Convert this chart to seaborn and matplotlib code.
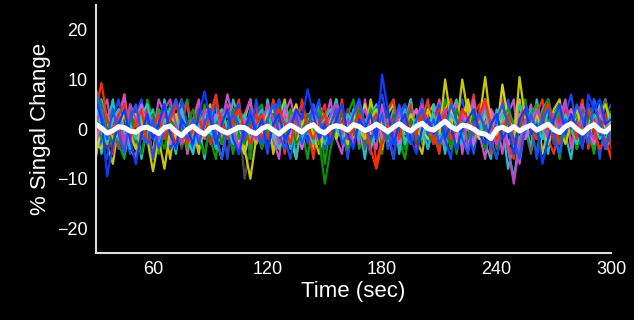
import pandas as pd
import numpy as np
import matplotlib
matplotlib.use("Agg")
import matplotlib.pyplot as plt
import seaborn as sns

# time axis: one sample every 3 sec from 30 to 300
time = list(range(30, 301, 3))

blue1 = [6, 2, -9.5, -3, 1, 4, -2, -7, -1, 3,
         -2, 1, 5, -1, -4, 2, 0, -3, 3, 7.6,
         2, -3, 1, 4, -2, -5, 0, 3, -1, 2,
         -4, 1, 3, -2, 0, 4, 2, 8, 3, -2,
         1, -3, 2, 5, -1, -4, 2, 0, 3, -2,
         11, 4, -3, 1, 3, -2, -5, 0, 2, -1,
         3, -2, 1, -4, 0, 2, 4, -1, -3, 1,
         3, -2, 0, -5, 2, 4, -1, 1, -7, -2,
         2, 5, -1, 3, 0, -3, 7, 4, 6, 1,
         2]
blue2 = [8, 3, -2, 4, -1, -5, 2, 5, -1, -3,
         2, -4, 0, 3, 6, 1, -2, 2, -3, 1,
         4, -1, -6, 0, 3, 1, -2, 4, 0, -3,
         2, 5, -1, -4, 1, 3, -3, 0, 5, 2,
         -2, 1, 4, -3, -1, 3, 6, 1, -2, 0,
         3, -4, 1, 5, 0, -3, 2, 4, -1, 2,
         -3, 0, 5, 2, -2, -5, 1, 3, 0, -4,
         2, 5, 1, -2, -6, 0, 3, -1, 2, 4,
         -1, -5, 2, 0, 5, 2, -3, 6, 1, -4,
         1]
blue3 = [5, -3, -6, 2, 6, -1, -5, 3, 6, 0,
         -6, 2, 5, -4, -2, 6, 1, -5, 4, 2,
         -3, 6, 0, -6, 3, 5, -2, -4, 6, 1,
         -5, 3, 6, -2, -6, 1, 5, -3, 2, 6,
         -4, -1, 5, 2, -6, 3, 6, -2, -5, 4,
         7, 1, -6, 2, 5, -3, -1, 6, -4, 2,
         5, -2, -6, 3, 6, 0, -5, 2, 5, -3,
         -6, 2, 6, -1, -4, 5, 2, -6, 1, 6,
         -2, -5, 3, 7, 0, -4, 5, 2, -6, 3,
         5]
red1 = [4, 9.3, 2, -1, 3, 5, -2, 1, 4, -3,
        0, 3, -2, 2, 5, 1, -3, 0, 2, -1,
        3, 6, 1, -2, 2, 4, 0, -3, 1, 3,
        -2, 0, 4, 1, -3, 2, 5, 0, -2, 1,
        3, -1, 2, 4, -2, 0, 3, 1, -4, -8,
        -3, 1, 2, -2, 3, 0, -1, 4, 2, -3,
        1, 3, -2, 0, 4, 2, -1, 3, 6, 1,
        -2, 0, 3, -3, 1, 4, 0, -2, 2, 5,
        1, -3, 0, 3, -2, 1, 4, 0, -4, -2,
        -6]
red2 = [7, 1, -3, 2, 0, -4, 3, 1, -2, 4,
        1, -2, 3, 0, -3, 2, 5, 1, -1, 2,
        -3, 0, 2, -2, 1, 4, -1, 0, 3, -2,
        1, 3, -1, -4, 2, 0, 3, 1, -3, 0,
        2, -2, 4, 1, -1, 3, 0, -2, 1, 3,
        0, -3, 2, 4, 1, -2, 0, 3, -1, 2,
        4, 1, -3, 2, 0, -2, 3, 5, 0, -3,
        1, 3, -1, 0, -4, 2, 1, -2, 3, 0,
        -2, 2, 4, -1, 1, -3, 0, 2, -1, 3,
        -4]
red3 = [-2, 6, 1, -5, 3, 7, -1, -4, 5, 2,
        -6, 1, 4, -3, 6, 2, -5, 0, 5, -2,
        3, 7, -1, -5, 2, 6, -3, 1, 5, -4,
        0, 6, 2, -5, 3, -2, 6, 1, -6, 2,
        5, -3, 0, 6, -4, 1, 5, -2, 3, -7,
        -2, 4, 6, -3, 1, 5, -4, 2, 6, -1,
        -5, 3, 6, 0, -4, 2, 7, -2, 4, -5,
        1, 6, -3, -6, 2, 5, -1, 3, 6, -2,
        -5, 1, 5, -3, 2, 6, -4, 0, 4, -3,
        -5]
green1 = [8, 5, 0, -3, 2, -1, 4, -2, -5, 1,
          3, -1, -4, 2, 0, -3, 1, 4, -2, -5,
          0, 2, -3, 1, 4, -1, -3, 2, 0, -4,
          1, 3, -2, 0, 2, -3, -1, 3, 1, -2,
          -11, -4, 1, 3, -2, 0, 4, 1, -3, 2,
          0, -2, 3, 1, -4, 2, 0, 5, -1, -3,
          2, 0, -3, 4, 1, -2, 3, 0, -4, 1,
          3, -1, 2, -3, 0, 4, 1, -2, 3, 6,
          1, -2, 0, 3, -4, -1, 2, 5, 1, -3,
          0]
green2 = [3, -2, 1, 4, 0, -3, 2, -1, 3, 0,
          -2, 4, 1, -3, 2, 0, -4, 1, 3, -1,
          2, -3, 0, 4, 1, -2, 3, -4, 0, 2,
          -1, 3, 0, -2, 4, 1, -3, 2, 0, 4,
          1, -2, 3, 0, -4, 2, 1, -1, 4, 2,
          -3, 0, 2, -2, 1, 3, -1, 4, 0, -2,
          3, 1, -4, 0, 2, -2, 1, 3, -1, 0,
          -3, 2, 4, 1, -2, 0, 3, 5, -1, 2,
          0, 4, -2, 1, 3, -1, 0, -4, 2, 5,
          2]
green3 = [6, -4, 2, 5, -3, -6, 1, 4, -2, 6,
          2, -5, 0, 5, -3, 3, 6, -4, -1, 5,
          -2, -6, 3, 1, -5, 4, 2, -6, 3, 5,
          -1, -4, 6, 2, -3, 5, 0, -6, 2, 4,
          -7, 1, 5, -2, 3, 6, -4, -1, 5, 2,
          -5, 3, 6, -2, -6, 1, 4, -3, 5, 0,
          -4, 6, 2, -5, 1, 5, -3, 3, 6, -2,
          -6, 0, 5, -4, 2, 6, -1, -5, 3, 6,
          1, -6, 2, 4, -3, 5, 0, -5, 2, 6,
          -3]
cyan1 = [5, 0, -3, 2, 4, -1, 1, -2, 3, 5,
         0, -3, 2, 1, -1, 4, -2, -5, 1, 3,
         -1, 2, 4, 0, -3, 1, 3, -2, 0, 2,
         4, -1, -4, 2, 1, 3, -2, 0, -3, 1,
         2, 4, 0, -2, 3, 1, -1, 2, -4, 0,
         3, -1, 1, 4, -3, 0, 2, -2, 1, 3,
         -2, 0, 3, 1, -3, 2, 0, -1, 4, -2,
         1, 3, -4, -10, -2, 1, 3, 0, -2, 4,
         2, -1, 3, 0, -3, 2, 4, 1, -2, 0,
         3]
cyan2 = [2, 6, 1, -2, 3, 0, -4, 2, 1, -1,
         3, 0, -2, 4, 1, -3, 0, 2, -1, 3,
         0, -4, 1, 3, -1, 2, 0, -3, 2, 4,
         -2, 0, 3, 1, -4, 0, 2, -1, 3, 0,
         -3, 1, 2, -1, 0, 4, -2, 1, 3, -2,
         0, 2, -3, 1, 4, -1, 2, 0, -4, 1,
         3, -2, 0, 2, -1, 3, -3, 1, 0, -2,
         2, 0, 3, -3, 1, -1, 4, 2, -2, 0,
         3, 1, -2, 2, 0, -3, 1, 3, 0, -2,
         1]
cyan3 = [3, -5, 1, 6, -2, -4, 5, 2, -6, 1,
         4, -3, 6, 0, -5, 3, 5, -2, 1, -6,
         2, 5, -3, -1, 6, 2, -5, 4, 1, -3,
         6, 0, -4, 5, 2, -6, 3, 1, -2, 5,
         -3, 2, 6, -1, -5, 4, 1, -6, 3, 5,
         -2, 0, 4, -5, 2, 6, -3, 1, -4, 5,
         2, -5, 3, 6, -2, -4, 5, 0, -3, -6,
         4, 1, -8, -3, 5, 2, -4, 6, 0, -5,
         3, 5, -1, -6, 2, 4, -3, 1, 5, -4,
         -2]
magenta1 = [1, 4, -2, 0, 3, -3, 5, 2, -1, 3,
            1, -2, 4, 6, 1, -3, 0, 2, -2, 4,
            2, -1, 3, 5, 0, -4, 1, 3, -2, 1,
            5, 2, -3, 0, 2, 4, -1, 1, 3, -2,
            0, 3, 5, -1, 2, -3, 1, 4, 0, -2,
            3, 1, -2, 4, 0, -3, 2, 5, 1, -1,
            2, 4, -2, 0, 3, -4, 1, 2, 5, 0,
            -3, 1, -4, -11, -3, 2, 0, 4, 1, -2,
            3, 0, 5, 2, -1, 3, 0, -2, 4, 1,
            -1]
magenta2 = [-2, 1, 3, -1, 4, 0, -3, 2, 5, 0,
            -1, 3, 0, -3, 2, 4, -1, 1, -4, 2,
            0, 3, -2, 1, 4, -1, 2, 0, -3, 1,
            3, -2, 0, 4, -1, 2, -4, 1, 3, 0,
            2, -1, 3, 0, -3, 1, 4, -2, 0, 3,
            -2, 1, 3, -3, 0, 2, 4, -1, 1, -3,
            0, 3, 1, -2, 4, 0, -3, 2, 1, 4,
            -1, 2, -3, 0, 3, -2, 1, 4, 0, -2,
            2, -3, 1, 4, -1, 2, 0, -3, 3, 1,
            0]
magenta3 = [-5, 3, 6, -2, 1, 7, -3, -6, 2, 5,
            -1, 6, 3, -4, 0, 5, -5, 2, 6, -2,
            4, -4, 1, 7, 2, -5, 3, 6, -3, 0,
            5, -2, -6, 3, 6, 1, -4, 2, 5, -3,
            1, 6, -2, -5, 4, 2, -3, 6, 0, -4,
            5, -1, -6, 3, 5, -2, 1, 6, -4, 2,
            6, -3, 0, 5, -5, 2, 6, -1, -6, 4,
            2, -5, 3, 6, -7, 1, 5, -2, 4, 6,
            -3, 2, 6, -4, 0, 5, -2, 6, 1, -4,
            2]
yellow1 = [-3, -4, 1, -2, 0, 3, -1, -4, 2, -2,
           -8.5, -2, -8, 0, 3, -3, -1, 2, -4, 0,
           2, -3, 1, 4, -2, 0, -4, -10, -2, 1,
           3, -1, -4, 0, 2, -3, 1, 3, -1, -5,
           0, 2, -2, 1, -3, 3, 0, -2, 2, 4,
           1, -3, 0, 2, -1, 3, 0, -2, 4, 1,
           -1, 10, 2, 0, 10, 3, -1, 2, 10.5, 1,
           -2, 3, 0, -3, 10.5, 2, -1, 3, 0, -2,
           2, 0, -3, 1, 4, -1, 2, 0, 3, 5,
           1]
yellow2 = [-4, -1, 2, -3, 0, -5, 1, 3, -2, 0,
           2, -3, 0, 4, -2, 1, -4, 0, 2, -1,
           3, 0, -3, 1, 4, -2, -5, 0, 2, -1,
           1, 4, 0, -2, 2, 5, -1, 0, 3, -3,
           0, 2, -1, 3, 1, -2, 0, 5, -1, 2,
           -2, 0, 3, 1, -3, 2, 4, 0, -2, 1,
           3, 0, 4, -1, 2, 6, 0, -2, 3, 1,
           -1, 9, 2, 0, 3, -2, 1, 4, 0, -3,
           2, 4, -1, 0, 3, 1, -2, 2, 4, 0,
           2]
yellow3 = [-6, 2, -3, -7, 1, 5, -4, -6, 3, 0,
           -5, 4, 1, -6, 2, 6, -3, 0, -5, 3,
           5, -2, -6, 1, 4, -4, 2, 6, -3, -1,
           4, -5, 2, 6, -2, -6, 1, 3, -4, 5,
           2, -3, 6, 0, -5, 2, 4, -2, 6, 1,
           -4, 3, 5, -3, 0, 6, -2, -5, 3, 5,
           -1, 4, 6, -3, 2, 5, -4, 1, 6, 3,
           -2, 5, -4, 1, 6, -2, 3, 5, -5, 0,
           4, 6, -2, 3, -4, 1, 5, -3, 2, 6,
           0]
gray1 = [2, -1, -4, 1, 3, -2, 0, 4, 1, -3,
         0, 2, -2, 3, 1, -4, 0, 2, -1, 3,
         1, -2, 4, 0, -3, 2, -10, -3, 1, 3,
         0, -2, 2, 4, -1, 1, -3, 0, 2, -2,
         3, 0, -2, 1, 4, -1, 2, -3, 0, 1,
         -2, 3, 1, -1, 2, 0, -3, 1, 4, 0,
         -3, 2, 0, -2, 3, 1, -1, 4, 2, -2,
         0, 8, 1, -3, -2, 2, 0, -1, 3, 1,
         -3, 2, 0, 4, -2, 1, 3, -1, 0, 5,
         3]
gray2 = [0, 3, -2, 1, -4, 2, 0, -3, 1, 3,
         -1, 2, 0, -3, 1, 4, -2, 0, 3, -1,
         2, -1, 3, 0, -2, 1, -4, 2, 0, -3,
         1, 4, -1, 2, 0, -3, 1, 3, -2, 0,
         2, -3, 1, 0, 3, -1, 2, -4, 1, 3,
         -1, 2, 0, -3, 1, 4, -2, 0, 2, -1,
         3, -1, 0, 2, -3, 1, 4, -2, 0, 2,
         -4, 0, 2, -1, 3, 0, -5, 2, 1, -2,
         0, 3, -2, 1, -1, 4, 0, -3, 2, 6,
         0]

# group average (white line)
mean_signal = [1.0, 0.2, -0.8, -0.3, 0.5, 0.3, -0.4, -0.6, 0.2, 0.4,
               -0.2, -0.9, 0.3, 0.6, -0.5, -1.3, -0.1, 0.6, -0.4, -1.0,
               0.2, 0.5, -0.3, -0.8, -0.2, 0.4, 0.3, -0.5, -0.9, 0.1,
               0.6, -0.2, -1.0, 0.0, 0.8, 0.2, -0.6, 0.4, 0.9, -0.3,
               -0.8, 0.3, 0.7, 0.4, -0.2, 0.9, 0.5, -0.3, 0.2, 1.0,
               0.3, -0.5, 0.4, 1.1, 0.2, -0.4, 0.6, 1.2, 0.1, -0.2,
               0.7, 1.6, 0.5, -0.1, 0.8, 0.6, 0.0, -0.8, -1.0, -1.9,
               0.0, 0.4, -0.3, 0.5, -0.4, 0.3, 0.8, -0.2, 0.4, 1.0,
               -0.1, -0.7, 0.5, 1.1, 0.0, -0.8, 0.3, 0.9, -0.2, -0.6,
               0.5]

subjects = {"green3": green3, "yellow3": yellow3, "cyan3": cyan3, "red3": red3,
            "magenta3": magenta3, "blue3": blue3,
            "gray1": gray1, "gray2": gray2, "yellow2": yellow2, "cyan2": cyan2,
            "green2": green2, "magenta2": magenta2, "red2": red2, "yellow1": yellow1,
            "green1": green1, "cyan1": cyan1, "magenta1": magenta1, "red1": red1,
            "blue2": blue2, "blue1": blue1}
colors = {"green3": "#0c9c0c", "yellow3": "#c4c410", "cyan3": "#22c0c0", "red3": "#f03018",
          "magenta3": "#c850c8", "blue3": "#1848f0",
          "gray1": "#4a4a4a", "gray2": "#5e5e5e", "yellow2": "#d2d22a", "cyan2": "#12b4cf",
          "green2": "#16a316", "magenta2": "#dd5fdd", "red2": "#e8281e", "yellow1": "#c9c900",
          "green1": "#0a8f0a", "cyan1": "#1ec6c6", "magenta1": "#c23ec2", "red1": "#ff2a00",
          "blue2": "#1e55ff", "blue1": "#0a3cff"}

x_ticks = [60, 90, 120, 150, 180, 210, 240, 270, 300]
x_labels = ["60", "", "120", "", "180", "", "240", "", "300"]
y_ticks = [-20, -10, 0, 10, 20]
y_labels = ["\u221220", "\u221210", "0", "10", "20"]

for name, vals in subjects.items():
    assert len(vals) == len(time), name
assert len(mean_signal) == len(time)

df = pd.DataFrame([(name, t, v) for name, vals in subjects.items() for t, v in zip(time, vals)],
                  columns=["subject", "time", "signal"])

sns.set_style("dark")
plt.rcParams["font.family"] = ["Liberation Sans", "DejaVu Sans"]

fig = plt.figure(figsize=(6.34, 3.2), dpi=100, facecolor="black")
ax = fig.add_axes([0.151, 0.209, 0.813, 0.775])
ax.set_facecolor("black")

sns.lineplot(data=df, x="time", y="signal", hue="subject", palette=colors,
             linewidth=1.6, legend=False, ax=ax)
sns.lineplot(x=time, y=mean_signal, color="white", linewidth=3.6, ax=ax)

ax.set_xlim(30, 300)
ax.set_ylim(-25, 25)
ax.set_xticks(x_ticks)
ax.set_xticklabels(x_labels)
ax.set_yticks(y_ticks)
ax.set_yticklabels(y_labels)
ax.tick_params(direction="in", length=4, width=1, colors="#dddddd", labelsize=13,
               labelcolor="white", pad=6)
ax.grid(False)
for side in ["top", "right"]:
    ax.spines[side].set_visible(False)
for side in ["left", "bottom"]:
    ax.spines[side].set_color("#dddddd")
    ax.spines[side].set_linewidth(1.5)

ax.set_xlabel("Time (sec)", color="white", fontsize=16, labelpad=2)
ax.set_ylabel("% Singal Change", color="white", fontsize=16, labelpad=4)

fig.savefig("out.png", dpi=100, facecolor="black")
